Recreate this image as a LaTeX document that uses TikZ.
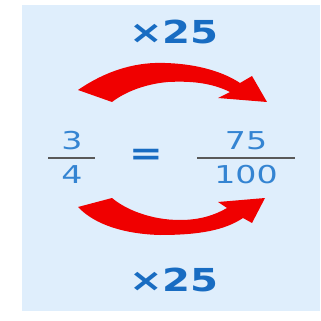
\documentclass[tikz,border=0pt]{standalone}
\usepackage{fontspec}
\setmainfont{DejaVu Sans}
\newfontfamily\grasfont[FakeStretch=1.27]{DejaVu Sans Bold}
\newfontfamily\chiffrefont[FakeStretch=1.35]{DejaVu Sans}
\definecolor{fond}{RGB}{223,238,252}
\definecolor{bleufonce}{RGB}{24,108,194}
\definecolor{bleuclair}{RGB}{52,132,210}
\definecolor{rouge}{RGB}{240,0,0}
\tikzset{
  facteur/.style={text=bleufonce, font=\grasfont\fontsize{27}{27}\selectfont, inner sep=0pt},
  chiffre/.style={text=bleuclair, font=\chiffrefont\fontsize{21}{21}\selectfont, inner sep=0pt},
  barre/.style={draw=black!65, line width=1.2pt}
}
\begin{document}
\begin{tikzpicture}[x=0.03cm,y=-0.03cm]

\useasboundingbox (0,0) rectangle (320,321);

% Fond
\fill[fond] (22,5) rectangle (320,311);

% Multiplicateurs
\node[facteur] (haut) at (174,32) {×25};
\node[facteur] (bas) at (174,280) {×25};

% Fraction de gauche
\node[chiffre] (num1) at (72,141) {3};
\node[chiffre] (den1) at (72,175) {4};
\draw[barre] (48,158) -- (95,158);

% Signe egal
\node[text=bleufonce, font=\grasfont\fontsize{27}{27}\selectfont, inner sep=0pt] (egal) at (146,157) {=};

% Fraction de droite
\node[chiffre] (num2) at (246,141) {75};
\node[chiffre] (den2) at (246,175) {100};
\draw[barre] (197,158) -- (295,158);

% Fleche du haut
\fill[rouge]
(78,90) .. controls (110,68) and (140,62) .. (165,63)
.. controls (200,64) and (225,73) .. (240,83) --
(252,76) --
(267,102) --
(218,98) --
(230,92) .. controls (210,82) and (188,81) .. (168,82)
.. controls (145,84) and (125,92) .. (112,102) --
cycle;

% Fleche du bas
\fill[rouge]
(78,207) --
(112,198) .. controls (125,209) and (150,220) .. (180,220)
.. controls (200,220) and (215,215) .. (227,208) --
(218,202) --
(265,198) --
(252,223) --
(243,218) .. controls (225,230) and (200,235) .. (160,235)
.. controls (125,234) and (95,225) .. (78,207) --
cycle;

\end{tikzpicture}
\end{document}
